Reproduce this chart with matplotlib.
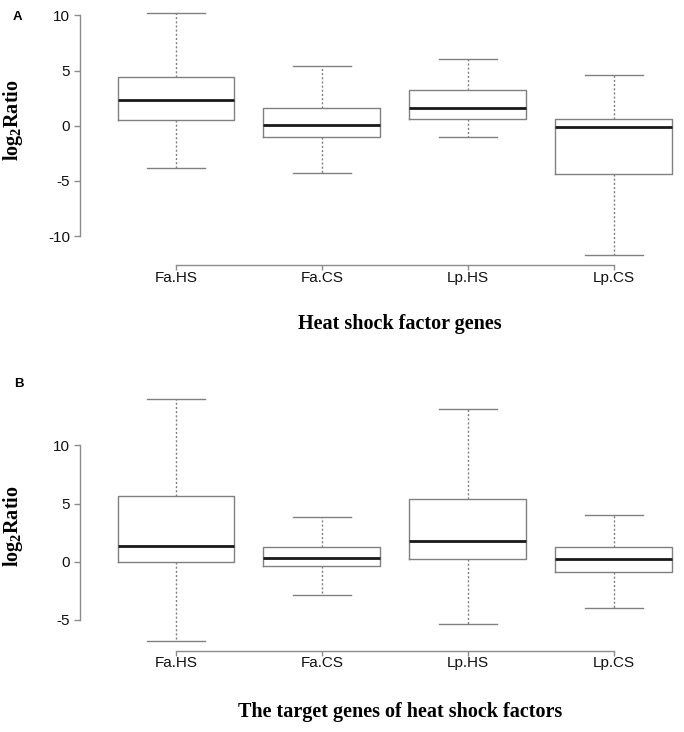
import numpy as np
import matplotlib
matplotlib.use("Agg")
import matplotlib.pyplot as plt

plt.rcParams['font.family'] = ['Liberation Sans', 'DejaVu Sans']
plt.rcParams['axes.unicode_minus'] = False
plt.rcParams['mathtext.fontset'] = 'custom'
plt.rcParams['mathtext.rm'] = 'Liberation Serif:bold'
plt.rcParams['mathtext.it'] = 'Liberation Serif:bold'
plt.rcParams['mathtext.bf'] = 'Liberation Serif:bold'

groups = ['Fa.HS', 'Fa.CS', 'Lp.HS', 'Lp.CS']

# panel A: heat shock factor genes
a_low = [-3.8, -4.27, -1.0, -11.75]
a_q1 = [0.55, -1.03, 0.58, -4.42]
a_med = [2.3, 0.1, 1.61, -0.12]
a_q3 = [4.4, 1.58, 3.25, 0.58]
a_high = [10.2, 5.45, 6.04, 4.61]

# panel B: target genes of heat shock factors
b_low = [-6.8, -2.87, -5.31, -3.97]
b_q1 = [0.0, -0.34, 0.2, -0.89]
b_med = [1.38, 0.29, 1.81, 0.21]
b_q3 = [5.66, 1.29, 5.43, 1.27]
b_high = [14.0, 3.83, 13.14, 4.0]

a_ticks = [-10, -5, 0, 5, 10]
b_ticks = [-5, 0, 5, 10]

BOX_COL = '#808080'
AXIS_COL = '#8c8c8c'


def draw_panel(ax, low, q1, med, q3, high, yticks, xlabel, ylab_y, xlab_y):
    stats = []
    for i, g in enumerate(groups):
        stats.append({'label': g, 'whislo': low[i], 'q1': q1[i], 'med': med[i],
                      'q3': q3[i], 'whishi': high[i], 'fliers': []})
    ax.bxp(stats, positions=range(1, len(groups) + 1), widths=0.8,
           showfliers=False,
           boxprops=dict(color=BOX_COL, linewidth=1.0),
           medianprops=dict(color='#1a1a1a', linewidth=2.0),
           whiskerprops=dict(color=BOX_COL, linewidth=1.0, linestyle=(0, (1.5, 1.5))),
           capprops=dict(color=BOX_COL, linewidth=1.0),
           capwidths=0.4)

    # R style ranges: 4 percent padding
    lo, hi = min(low), max(high)
    pad = (hi - lo) * 0.04
    ax.set_ylim(lo - pad, hi + pad)
    ax.set_xlim(0.5 - 0.16, len(groups) + 0.5 + 0.16)

    ax.set_yticks(yticks)
    ax.set_yticklabels([str(t) for t in yticks])
    ax.set_xticks(range(1, len(groups) + 1))
    ax.set_xticklabels(groups)

    for s in ['top', 'right']:
        ax.spines[s].set_visible(False)
    ax.spines['left'].set_bounds(yticks[0], yticks[-1])
    ax.spines['bottom'].set_bounds(1, len(groups))
    for s in ['left', 'bottom']:
        ax.spines[s].set_color(AXIS_COL)
        ax.spines[s].set_linewidth(1.0)

    ax.tick_params(axis='y', length=4, width=1.0, color=AXIS_COL, pad=3,
                   labelsize=11, labelcolor='#111111')
    ax.tick_params(axis='x', length=3.5, width=1.0, color=AXIS_COL, pad=0.5,
                   labelsize=11, labelcolor='#111111')

    ax.set_ylabel(r'$\mathrm{log_{2}Ratio}$', fontsize=14.5)
    ax.yaxis.set_label_coords(-0.087, ylab_y)
    ax.set_xlabel(xlabel, fontsize=14.5, fontfamily='Liberation Serif',
                  fontweight='bold')
    ax.xaxis.set_label_coords(0.508, xlab_y)


fig = plt.figure(figsize=(6.84, 7.32), dpi=100)
ax_a = fig.add_axes([0.1164, 0.638, 0.9216, 0.3571])
ax_b = fig.add_axes([0.1164, 0.1113, 0.9216, 0.3571])

draw_panel(ax_a, a_low, a_q1, a_med, a_q3, a_high, a_ticks,
           'Heat shock factor genes', 0.555, -0.187)
draw_panel(ax_b, b_low, b_q1, b_med, b_q3, b_high, b_ticks,
           'The target genes of heat shock factors', 0.476, -0.197)

fig.text(13 / 684, 1 - 17 / 732, 'A', fontsize=9.5, fontweight='bold', va='center')
fig.text(14 / 684, 1 - 384 / 732, 'B', fontsize=9.5, fontweight='bold', va='center')

fig.savefig('out.png', dpi=100)
